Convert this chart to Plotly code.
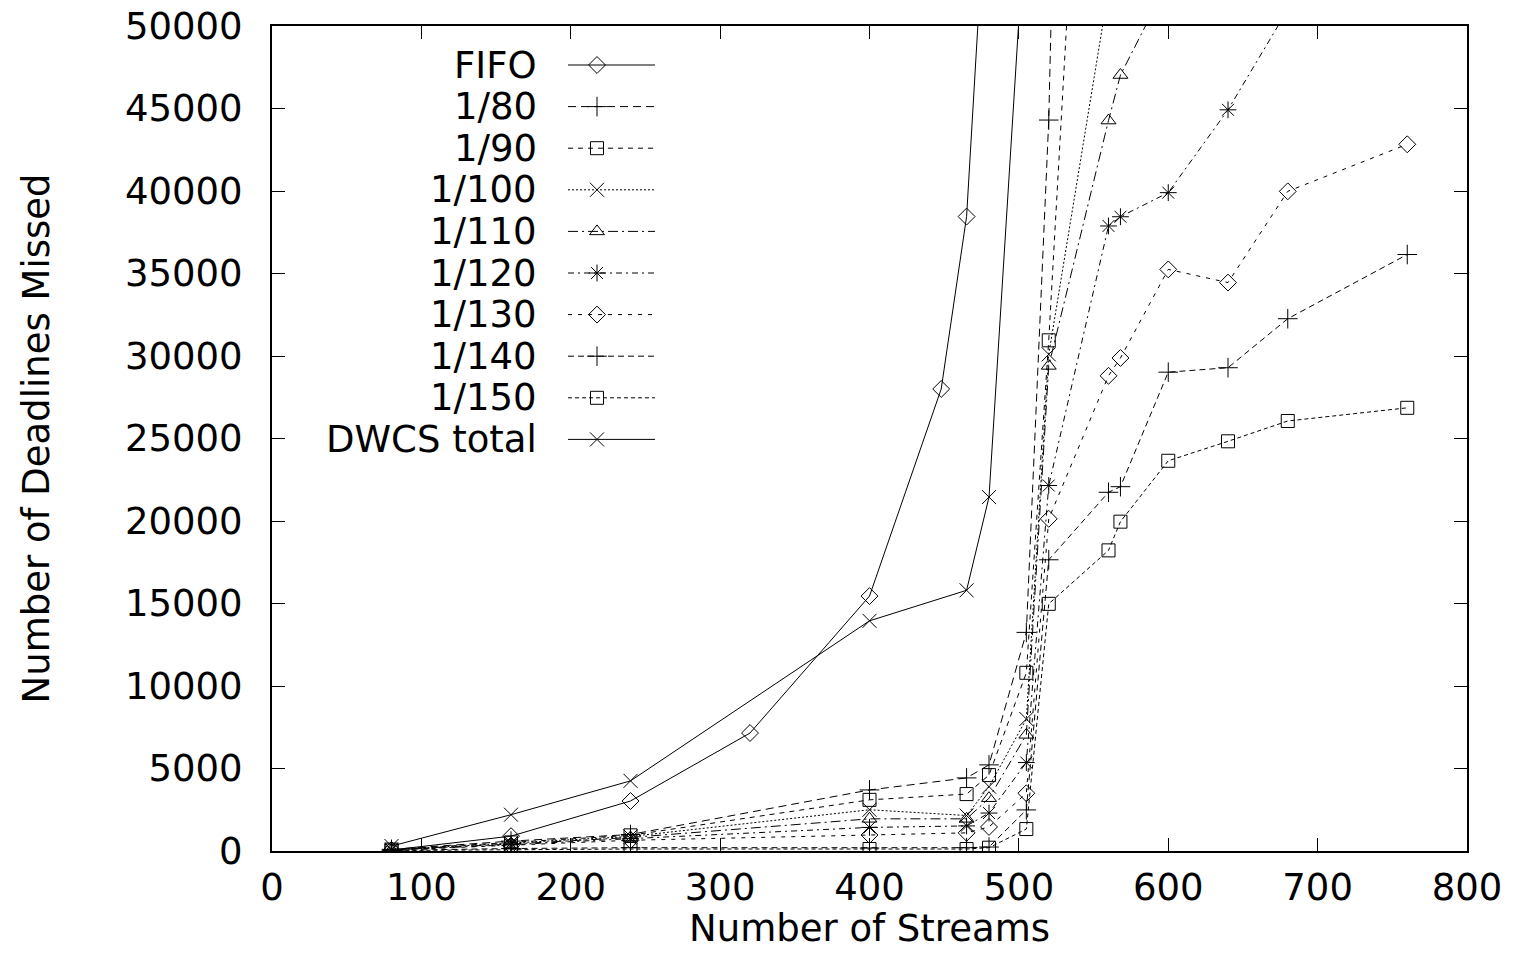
import plotly.graph_objects as go

# ---------------- data ----------------
series_names = ["FIFO", "1/80", "1/90", "1/100", "1/110", "1/120",
                "1/130", "1/140", "1/150", "DWCS total"]

x_fifo = [80, 160, 240, 320, 400, 448, 465, 480]
y_fifo = [60, 900, 3030, 7150, 15450, 28000, 38450, 61500]

x_dwcs = [80, 160, 240, 400, 465, 480, 505]
y_dwcs = [300, 2200, 4250, 13950, 15800, 21450, 57600]

x_80 = [80, 160, 240, 400, 465, 480, 505, 520, 560]
y_80 = [100, 600, 1000, 3700, 4430, 5220, 13250, 44300, 200000]

x_90 = [80, 160, 240, 400, 465, 480, 505, 520, 560]
y_90 = [90, 520, 950, 3100, 3450, 4600, 10800, 30950, 95000]

x_100 = [80, 160, 240, 400, 465, 480, 505, 520, 560]
y_100 = [80, 480, 880, 2500, 2150, 3900, 8000, 30100, 52200]

x_110 = [80, 160, 240, 400, 465, 480, 505, 520, 560, 568, 600]
y_110 = [70, 420, 820, 1950, 1950, 3200, 7040, 29400, 44270, 47030, 52700]

x_120 = [80, 160, 240, 400, 465, 480, 505, 520, 560, 568, 600, 640, 680, 760]
y_120 = [60, 380, 750, 1430, 1520, 2300, 5360, 22150, 37880, 38440, 39900,
         44920, 51000, 56000]

x_130 = [80, 160, 240, 400, 465, 480, 505, 520, 560, 568, 600, 640, 680, 760]
y_130 = [50, 330, 650, 970, 1100, 1460, 3500, 20130, 28800, 29880, 35250,
         34450, 39980, 42830]

x_140 = [80, 160, 240, 400, 465, 480, 505, 520, 560, 568, 600, 640, 680, 760]
y_140 = [40, 150, 200, 180, 200, 240, 2490, 17650, 21740, 22080, 29020,
         29290, 32260, 36150]

x_150 = [80, 160, 240, 400, 465, 480, 505, 520, 560, 568, 600, 640, 680, 760]
y_150 = [30, 80, 120, 120, 120, 200, 1330, 14980, 18220, 19960, 23650,
         24830, 26060, 26860]

x_ticks = [0, 100, 200, 300, 400, 500, 600, 700, 800]
x_tick_labels = ["0", "100", "200", "300", "400", "500", "600", "700", "800"]
y_ticks = [0, 5000, 10000, 15000, 20000, 25000, 30000, 35000, 40000, 45000, 50000]
y_tick_labels = ["0", "5000", "10000", "15000", "20000", "25000", "30000",
                 "35000", "40000", "45000", "50000"]

# ---------------- styles ----------------
xs = [x_fifo, x_80, x_90, x_100, x_110, x_120, x_130, x_140, x_150, x_dwcs]
ys = [y_fifo, y_80, y_90, y_100, y_110, y_120, y_130, y_140, y_150, y_dwcs]
dashes = ["solid", "8px,5px", "5px,5px", "2px,2px", "10px,4px,2px,4px",
          "6px,4px,2px,4px", "4px,6px", "6px,4px", "4px,3px", "solid"]
symbols = ["diamond-open", "cross-thin-open", "square-open", "x-thin-open",
           "triangle-up-open", "asterisk-open", "diamond-open",
           "cross-thin-open", "square-open", "x-thin-open"]
msizes = [13, 14, 13, 14, 13, 14, 13, 14, 13, 14]

FONT = "DejaVu Sans"
FS = 37

fig = go.Figure()

for name, xv, yv, d, s, ms in zip(series_names, xs, ys, dashes, symbols, msizes):
    fig.add_trace(go.Scatter(
        x=xv, y=yv, name=name, mode="lines+markers",
        line=dict(color="black", width=1, dash=d),
        marker=dict(symbol=s, size=ms, color="black",
                    line=dict(color="black", width=1)),
        showlegend=False,
    ))

# ---------------- custom legend (pixel overlay axis) ----------------
L, R, T, B = 272, 1467, 26, 851
row0, row_step = 65, 41.6
annotations = []
for i, (name, d, s, ms) in enumerate(zip(series_names, dashes, symbols, msizes)):
    yy = row0 + i * row_step
    fig.add_trace(go.Scatter(
        x=[568, 655], y=[yy, yy], mode="lines", xaxis="x2", yaxis="y2",
        line=dict(color="black", width=1, dash=d), showlegend=False,
        hoverinfo="skip"))
    fig.add_trace(go.Scatter(
        x=[597], y=[yy], mode="markers", xaxis="x2", yaxis="y2",
        marker=dict(symbol=s, size=ms, color="black",
                    line=dict(color="black", width=1)),
        showlegend=False, hoverinfo="skip"))
    annotations.append(dict(
        x=538, y=yy, xref="x2", yref="y2", text=name, showarrow=False,
        xanchor="right", yanchor="middle", borderpad=0,
        font=dict(family=FONT, size=FS, color="black")))

annotations.append(dict(
    x=0.5, y=0, xref="paper", yref="paper", text="Number of Streams",
    showarrow=False, xanchor="center", yanchor="bottom", yshift=-100,
    borderpad=0, font=dict(family=FONT, size=FS, color="black")))
annotations.append(dict(
    x=0, y=0.5, xref="paper", yref="paper", text="Number of Deadlines Missed",
    showarrow=False, xanchor="center", yanchor="middle", xshift=-236,
    borderpad=0, textangle=-90, font=dict(family=FONT, size=FS, color="black")))

axis_common = dict(ticks="inside", ticklen=13, tickwidth=1, tickcolor="black",
                   showline=True, linewidth=2, linecolor="black",
                   mirror="allticks", showgrid=False, zeroline=False,
                   automargin=False,
                   tickfont=dict(family=FONT, size=FS, color="black"))

fig.update_layout(
    template="none",
    width=1514, height=953,
    margin=dict(l=L, r=1514 - R, t=T, b=953 - B, pad=0),
    paper_bgcolor="white", plot_bgcolor="white",
    font=dict(family=FONT, size=FS, color="black"),
    annotations=annotations,
    hovermode=False,
    xaxis=dict(range=[0, 800], tickvals=x_ticks, ticktext=x_tick_labels,
               ticklabelstandoff=3, **axis_common),
    yaxis=dict(range=[0, 50000], tickvals=y_ticks, ticktext=y_tick_labels,
               ticklabelstandoff=20, **axis_common),
    xaxis2=dict(range=[L, R], overlaying="x", anchor="y2", visible=False,
                fixedrange=True, automargin=False),
    yaxis2=dict(range=[B, T], overlaying="y", anchor="x2", visible=False,
                fixedrange=True, automargin=False),
)

fig.write_html("out.html",
               config={"displayModeBar": False, "staticPlot": True},
               post_script="document.body.style.margin='0';"
                           "document.body.style.overflow='hidden';")
